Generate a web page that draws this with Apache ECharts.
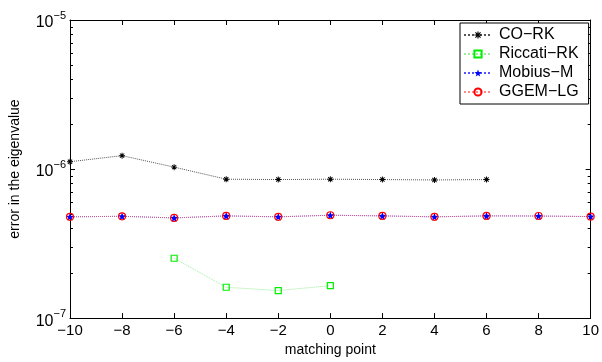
<!DOCTYPE html>
<html>
<head>
<meta charset="utf-8">
<script src="https://cdn.jsdelivr.net/npm/echarts@6/dist/echarts.min.js"></script>
<style>html,body{margin:0;padding:0;background:#fff}#c{width:602px;height:362px}</style>
</head>
<body>
<div id="c"></div>
<script>
// ---- data ----
var xCoRK = [-10, -8, -6, -4, -2, 0, 2, 4, 6];
var yCoRK = [1.12e-6, 1.23e-6, 1.03e-6, 0.855e-6, 0.85e-6, 0.855e-6, 0.85e-6, 0.845e-6, 0.85e-6];
var xRiccati = [-6, -4, -2, 0];
var yRiccati = [2.52e-7, 1.61e-7, 1.53e-7, 1.65e-7];
var xMobius = [-10, -8, -6, -4, -2, 0, 2, 4, 6, 8, 10];
var yMobius = [0.478e-6, 0.482e-6, 0.47e-6, 0.485e-6, 0.478e-6, 0.49e-6, 0.485e-6, 0.478e-6, 0.485e-6, 0.484e-6, 0.48e-6];
var xGGEM = [-10, -8, -6, -4, -2, 0, 2, 4, 6, 8, 10];
var yGGEM = [0.478e-6, 0.482e-6, 0.47e-6, 0.485e-6, 0.478e-6, 0.49e-6, 0.485e-6, 0.478e-6, 0.485e-6, 0.484e-6, 0.48e-6];
var seriesNames = ['CO\u2212RK', 'Riccati\u2212RK', 'Mobius\u2212M', 'GGEM\u2212LG'];
var yMajorTicks = [1e-7, 1e-6, 1e-5];
var yMinorTicks = [2e-7,3e-7,4e-7,5e-7,6e-7,7e-7,8e-7,9e-7,2e-6,3e-6,4e-6,5e-6,6e-6,7e-6,8e-6,9e-6];

function zip(xs, ys){ return xs.map(function(x,i){ return [x, ys[i]]; }); }

function starPath(){
  var p='';
  for (var i=0;i<10;i++){
    var r = (i%2)?0.42:1;
    var a = -Math.PI/2 + i*Math.PI/5;
    p += (i?'L':'M') + (r*Math.cos(a)*10).toFixed(2)+' '+(r*Math.sin(a)*10).toFixed(2)+' ';
  }
  return 'path://'+p+'Z';
}
function asteriskPath(){
  var p='';
  [0,45,90,135].forEach(function(deg){
    var t=deg*Math.PI/180, hl=10, hw=1.6;
    var dx=Math.cos(t), dy=Math.sin(t), nx=-dy, ny=dx;
    var pts=[[hl*dx+hw*nx, hl*dy+hw*ny],[hl*dx-hw*nx, hl*dy-hw*ny],[-hl*dx-hw*nx,-hl*dy-hw*ny],[-hl*dx+hw*nx,-hl*dy+hw*ny]];
    p += 'M'+pts.map(function(q){return q[0].toFixed(2)+' '+q[1].toFixed(2);}).join(' L')+' Z ';
  });
  return 'path://'+p;
}

var FONT = 'Liberation Sans';
var chart = echarts.init(document.getElementById('c'), null, {renderer:'canvas'});

function yAxisDef(pos, major, showLabel, showLine){
  return {
    type:'log', logBase:10, min:1e-7, max:1e-5, position:pos,
    axisLine:{show:showLine, onZero:false, lineStyle:{color:'#000', width:1}},
    axisTick:{show:true, inside:true, length: major?5:3, customValues: major?yMajorTicks:yMinorTicks, lineStyle:{color:'#000'}},
    axisLabel:{show:showLabel, customValues: yMajorTicks, margin:4,
      formatter:function(v){ return '{b|10}{s|\u2212'+Math.abs(Math.round(Math.log10(v)))+'}'; },
      rich:{ b:{fontFamily:FONT, fontSize:16, color:'#000', padding:[6,0,0,0]}, s:{fontFamily:FONT, fontSize:11, color:'#000', padding:[0,0,8,0]} }
    },
    splitLine:{show:false}, minorTick:{show:false}
  };
}

chart.setOption({
  animation:false,
  backgroundColor:'#fff',
  textStyle:{fontFamily:FONT},
  grid:{left:62, right:11, top:20, bottom:35, containLabel:false},
  legend:{
    data:seriesNames, orient:'vertical', left:460, top:23,
    backgroundColor:'#fff', borderColor:'#000', borderWidth:1, borderRadius:0,
    padding:[4,10,4,3], itemGap:3, itemWidth:28, itemHeight:9,
    textStyle:{fontFamily:FONT, fontSize:16, color:'#000', padding:[0,0,0,2]}
  },
  xAxis:[
    {type:'value', min:-10, max:10, interval:2, position:'bottom',
     name:'matching point', nameLocation:'middle', nameGap:24,
     nameTextStyle:{fontFamily:FONT, fontSize:14, color:'#000'},
     axisLine:{onZero:false, lineStyle:{color:'#000'}}, axisTick:{inside:true, length:5, lineStyle:{color:'#000'}},
     axisLabel:{fontFamily:FONT, fontSize:15, color:'#000', margin:5,
       formatter:function(v){ return v<0 ? '\u2212'+(-v) : String(v); }},
     splitLine:{show:false}},
    {type:'value', min:-10, max:10, interval:2, position:'top',
     axisLine:{onZero:false, lineStyle:{color:'#000'}}, axisTick:{inside:true, length:5, lineStyle:{color:'#000'}},
     axisLabel:{show:false}, splitLine:{show:false}}
  ],
  yAxis:[
    Object.assign(yAxisDef('left', true, true, true), {
      name:'error in the eigenvalue', nameLocation:'middle', nameGap:48, nameRotate:90,
      nameTextStyle:{fontFamily:FONT, fontSize:14, color:'#000'}
    }),
    yAxisDef('left', false, false, false),
    yAxisDef('right', true, false, true),
    yAxisDef('right', false, false, false)
  ],
  series:[
    {name:seriesNames[0], type:'line', data:zip(xCoRK,yCoRK), symbol:asteriskPath(), symbolSize:6,
     itemStyle:{color:'#000'}, lineStyle:{color:'#555', width:1, type:'dotted'}},
    {name:seriesNames[1], type:'line', data:zip(xRiccati,yRiccati), symbol:'rect', symbolSize:6,
     itemStyle:{color:'rgba(0,0,0,0)', borderColor:'#00ee00', borderWidth:1.2}, lineStyle:{color:'#99ee99', width:1, type:'dotted'}},
    {name:seriesNames[2], type:'line', data:zip(xMobius,yMobius), symbol:starPath(), symbolSize:8,
     itemStyle:{color:'#0000ff'}, lineStyle:{color:'#5555ff', width:1, type:'dotted'}},
    {name:seriesNames[3], type:'line', data:zip(xGGEM,yGGEM), symbol:'circle', symbolSize:7,
     itemStyle:{color:'rgba(0,0,0,0)', borderColor:'#ff0000', borderWidth:1.2}, lineStyle:{color:'#ff5555', width:1, type:'dotted', opacity:0.7}}
  ]
});
</script>
</body>
</html>
